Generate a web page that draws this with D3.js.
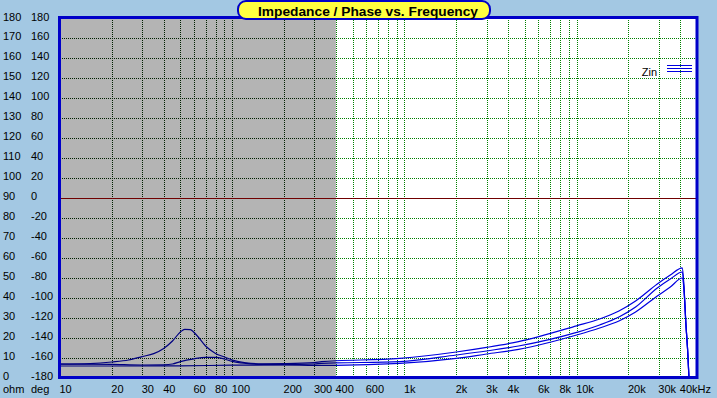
<!DOCTYPE html>
<html>
<head>
<meta charset="utf-8">
<script src="https://cdn.jsdelivr.net/npm/d3@7"></script>
<style>
  body { margin: 0; background: #a3c8e3; }
  svg { display: block; }
  text { font-family: "Liberation Sans", Arial, sans-serif; }
</style>
</head>
<body>
<div id="chart"></div>
<script>
// tick labels
const ohmTicks = [180, 170, 160, 150, 140, 130, 120, 110, 100, 90, 80, 70, 60, 50, 40, 30, 20, 10, 0]
const degTicks = [180, 160, 140, 120, 100, 80, 60, 40, 20, 0, -20, -40, -60, -80, -100, -120, -140, -160, -180]
const freqLabelVals = [10, 20, 30, 40, 60, 80, 100, 200, 300, 400, 600, 1000, 2000, 3000, 4000, 6000, 8000, 10000, 20000, 30000, 40000]
const freqLabels = ['10', '20', '30', '40', '60', '80', '100', '200', '300', '400', '600', '1k', '2k', '3k', '4k', '6k', '8k', '10k', '20k', '30k', '40kHz']
const freqGrid = [20, 30, 40, 50, 60, 70, 80, 90, 100, 200, 300, 400, 500, 600, 700, 800, 900,
  1000, 2000, 3000, 4000, 5000, 6000, 7000, 8000, 9000, 10000, 20000, 30000, 40000]

// Zin curves (ohm)
const freqA = [10, 15, 20, 25, 30, 35, 40, 45, 50, 53, 57, 62, 70, 80, 90, 100, 120, 150, 200, 300, 330, 940, 2000, 3000, 4600, 10000, 13600, 17600, 22000, 29400, 35000, 41100, 42000, 43100, 44300, 44900]
const zinA = [6.9, 7.2, 8.0, 9.0, 10.7, 12.2, 14.8, 18.5, 23, 24.3, 24.2, 21.5, 16, 12.3, 10.5, 9.0, 7.6, 7.1, 7.2, 7.7, 8.2, 9.8, 13, 15.3, 18.2, 26.1, 29.5, 33.5, 38.5, 47, 51.5, 55.1, 46, 27.5, 11, 0]
const freqB = [10, 20, 30, 40, 45, 50, 60, 70, 80, 90, 100, 120, 150, 200, 300, 330, 940, 2000, 3000, 4600, 10000, 13600, 17600, 22000, 29400, 35000, 41100, 42000, 43100, 44300, 44900]
const zinB = [7.0, 6.8, 6.5, 6.6, 7.0, 8.2, 9.6, 10.3, 10.3, 9.5, 8.3, 7.3, 6.8, 6.7, 7.0, 7.3, 8.2, 11.5, 13.5, 16, 22.8, 26.5, 30.5, 35.5, 45, 49.5, 53, 45, 27, 11, 0]
const freqC = [10, 20, 50, 100, 200, 300, 330, 940, 2000, 3000, 4600, 10000, 13600, 17600, 22000, 29400, 35000, 41100, 42000, 43100, 44300, 44900]
const zinC = [6.0, 6.0, 6.1, 6.4, 6.5, 6.3, 6.3, 7.3, 9.8, 12, 14.3, 21.5, 25, 28.5, 33, 41, 45.5, 50, 44, 27, 11, 0]

const W = 717, H = 398
const plot = {left: 60, right: 697, top: 18, bottom: 378}
const splitF = 400

const svg = d3.select('#chart').append('svg')
  .attr('width', W)
  .attr('height', H)

const x = d3.scaleLog().domain([10, 50000]).range([plot.left, plot.right])
const yDeg = d3.scaleLinear().domain([-180, 180]).range([plot.bottom, plot.top])
const yOhm = d3.scaleLinear().domain([0, 180]).range([plot.bottom, plot.top])
const xs = x(splitF)

// backgrounds
svg.append('rect').attr('x', plot.left).attr('y', plot.top)
  .attr('width', plot.right - plot.left).attr('height', plot.bottom - plot.top)
  .attr('fill', '#fff')
svg.append('rect').attr('x', plot.left).attr('y', plot.top)
  .attr('width', xs - plot.left).attr('height', plot.bottom - plot.top)
  .attr('fill', '#b4b4b4')

const defs = svg.append('defs')
defs.append('clipPath').attr('id', 'clipGray').append('rect')
  .attr('x', plot.left).attr('y', plot.top - 2).attr('width', xs - plot.left).attr('height', plot.bottom - plot.top + 4)
defs.append('clipPath').attr('id', 'clipWhite').append('rect')
  .attr('x', xs).attr('y', plot.top - 2).attr('width', plot.right - xs).attr('height', plot.bottom - plot.top + 4)

// grid
const grid = svg.append('g').attr('shape-rendering', 'crispEdges')
grid.selectAll('.vg').data(freqGrid).join('line')
  .attr('x1', d => Math.round(x(d)) + 0.5).attr('x2', d => Math.round(x(d)) + 0.5)
  .attr('y1', plot.top).attr('y2', plot.bottom)
  .attr('stroke', d => d < splitF ? '#002000' : '#008000')
  .attr('stroke-dasharray', '1,1')

const hVals = degTicks.filter(d => d !== 180 && d !== -180 && d !== 0)
grid.selectAll('.hgL').data(hVals).join('line')
  .attr('x1', plot.left).attr('x2', xs)
  .attr('y1', d => Math.round(yDeg(d)) + 0.5).attr('y2', d => Math.round(yDeg(d)) + 0.5)
  .attr('stroke', '#002000').attr('stroke-dasharray', '1,1')
grid.selectAll('.hgR').data(hVals).join('line')
  .attr('x1', xs).attr('x2', plot.right)
  .attr('y1', d => Math.round(yDeg(d)) + 0.5).attr('y2', d => Math.round(yDeg(d)) + 0.5)
  .attr('stroke', '#008000').attr('stroke-dasharray', '1,1')
grid.append('line')
  .attr('x1', plot.left).attr('x2', plot.right)
  .attr('y1', Math.round(yDeg(0)) + 0.5).attr('y2', Math.round(yDeg(0)) + 0.5)
  .attr('stroke', '#700000')

// curves
const line = d3.line().x(d => x(d[0])).y(d => yOhm(d[1])).curve(d3.curveMonotoneX)
const curves = [d3.zip(freqA, zinA), d3.zip(freqB, zinB), d3.zip(freqC, zinC)]
svg.append('g').attr('clip-path', 'url(#clipGray)')
  .selectAll('path').data(curves).join('path')
  .attr('d', line).attr('fill', 'none').attr('stroke', '#000080').attr('stroke-width', 1.2)
svg.append('g').attr('clip-path', 'url(#clipWhite)')
  .selectAll('path').data(curves).join('path')
  .attr('d', line).attr('fill', 'none').attr('stroke', '#0000e0').attr('stroke-width', 1.2)

// border
svg.append('rect')
  .attr('x', plot.left - 0.5).attr('y', plot.top - 0.5)
  .attr('width', plot.right - plot.left + 0.5).attr('height', plot.bottom - plot.top)
  .attr('fill', 'none').attr('stroke', '#0000c8').attr('stroke-width', 3)

// left labels
svg.selectAll('.ohmLab').data(ohmTicks).join('text')
  .attr('x', 3).attr('y', d => Math.max(yOhm(d) + 1.5, 20.5))
  .attr('font-size', 11).attr('fill', '#000').text(d => d)
svg.selectAll('.degLab').data(degTicks).join('text')
  .attr('x', 31).attr('y', d => Math.max(yDeg(d) + 1.5, 20.5))
  .attr('font-size', 11).attr('fill', '#000').text(d => d)

// bottom labels
svg.append('text').attr('x', 3).attr('y', 393).attr('font-size', 11).text('ohm')
svg.append('text').attr('x', 31).attr('y', 393).attr('font-size', 11).text('deg')
svg.selectAll('.fLab').data(freqLabelVals).join('text')
  .attr('x', d => x(d) - 0.5).attr('y', 393)
  .attr('font-size', 11).attr('fill', '#000')
  .text((d, i) => freqLabels[i])

// legend
svg.append('text').attr('x', 657).attr('y', 76).attr('text-anchor', 'end')
  .attr('font-size', 11).text('Zin')
svg.selectAll('.legLine').data([65, 68, 71]).join('line')
  .attr('x1', 667).attr('x2', 692)
  .attr('y1', d => d + 0.5).attr('y2', d => d + 0.5)
  .attr('stroke', '#0000e0').attr('shape-rendering', 'crispEdges')

// title
svg.append('rect')
  .attr('x', 238).attr('y', 1).attr('width', 252).attr('height', 18)
  .attr('rx', 8).attr('ry', 8)
  .attr('fill', '#ffff40').attr('stroke', '#0000c8').attr('stroke-width', 2)
svg.append('text')
  .attr('x', 258).attr('y', 15.5)
  .attr('font-size', 13).attr('font-weight', 'bold')
  .attr('textLength', 220).attr('lengthAdjust', 'spacingAndGlyphs')
  .text('Impedance / Phase vs. Frequency')
</script>
</body>
</html>
